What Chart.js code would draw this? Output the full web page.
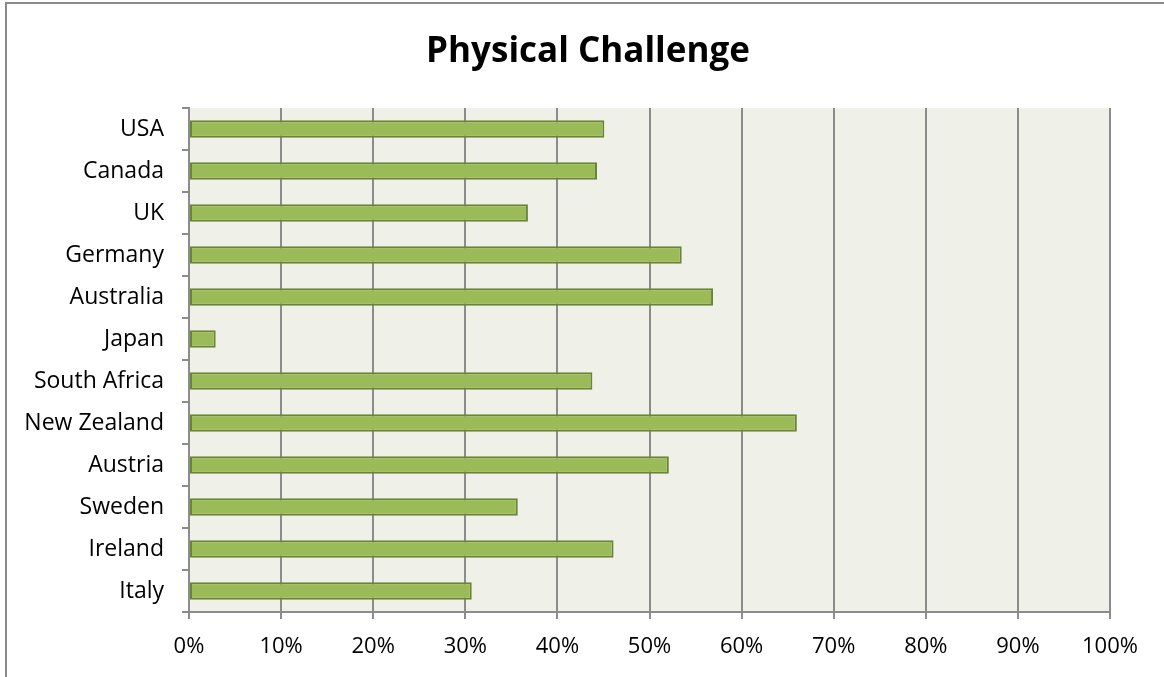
<!DOCTYPE html>
<html>
<head>
<meta charset="utf-8">
<script src="https://cdn.jsdelivr.net/npm/chart.js@4/dist/chart.umd.min.js"></script>
<style>
  body { margin:0; background:#fff; }
  #wrap { width:1164px; height:677px; }
</style>
</head>
<body>
<div id="wrap"><canvas id="barChart" width="1164" height="677"></canvas></div>
<script>
var countries = ['USA','Canada','UK','Germany','Australia','Japan','South Africa','New Zealand','Austria','Sweden','Ireland','Italy'];
var physicalChallenge = [45.1, 44.3, 36.8, 53.5, 56.9, 2.9, 43.8, 66.0, 52.1, 35.7, 46.1, 30.7];
var xTicks = [0,10,20,30,40,50,60,70,80,90,100];

var fontFamily = '"Open Sans", Lato, sans-serif';

// plot background + outer frame
var chartBg = {
  id: 'chartBg',
  beforeDraw: function(chart) {
    var ctx = chart.ctx, a = chart.chartArea;
    ctx.save();
    ctx.fillStyle = '#fff';
    ctx.fillRect(0, 0, chart.width, chart.height);
    ctx.strokeStyle = '#898989';
    ctx.lineWidth = 2;
    ctx.strokeRect(6, 3, 1300, 900);
    ctx.fillStyle = '#eff1e9';
    ctx.fillRect(a.left, a.top, a.right - a.left, a.bottom - a.top);
    ctx.restore();
  }
};

function $id(id){ return document.getElementById(id); }
var barCtx = $id('barChart').getContext('2d');

new Chart(barCtx, {
  type: 'bar',
  data: {
    labels: countries,
    datasets: [{
      label: 'Physical Challenge',
      data: physicalChallenge,
      backgroundColor: '#9bbb59',
      borderColor: '#6a8536',
      borderWidth: 2,
      borderSkipped: false,
      categoryPercentage: 1,
      barPercentage: 0.42
    }]
  },
  options: {
    indexAxis: 'y',
    responsive: false,
    animation: false,
    layout: { padding: { left: 12, right: 0, top: 0, bottom: 0 } },
    plugins: {
      legend: { display: false },
      tooltip: { enabled: false },
      title: {
        display: true,
        text: 'Physical Challenge',
        color: '#000',
        font: { family: fontFamily, size: 35, weight: 'bold', lineHeight: 1.2 },
        padding: { top: 31, bottom: 35 }
      }
    },
    scales: {
      x: {
        min: 0,
        max: 100,
        afterBuildTicks: function(scale) {
          scale.ticks = xTicks.map(function(v){ return { value: v }; });
        },
        afterFit: function(scale) { scale.height = 65; },
        grid: {
          color: '#8c8c8c',
          lineWidth: 2,
          drawTicks: true,
          tickLength: 7,
          tickColor: '#8c8c8c'
        },
        border: { display: true, color: '#8c8c8c', width: 2 },
        ticks: {
          color: '#000',
          padding: 15,
          font: { family: fontFamily, size: 22 },
          callback: function(v) { return v + '%'; }
        }
      },
      y: {
        afterFit: function(scale) { scale.width = 177; },
        grid: {
          drawOnChartArea: false,
          drawTicks: true,
          tickLength: 7,
          color: '#8c8c8c',
          lineWidth: 2,
          offset: true
        },
        border: { display: true, color: '#8c8c8c', width: 2 },
        ticks: {
          color: '#000',
          padding: 18,
          font: { family: fontFamily, size: 23 }
        }
      },
      // empty right-hand box, keeps the plot's right edge at 100%
      yRight: {
        position: 'right',
        afterFit: function(scale) { scale.width = 54; },
        grid: { display: false },
        border: { display: false },
        ticks: { display: false }
      }
    }
  },
  plugins: [chartBg]
});
</script>
</body>
</html>
